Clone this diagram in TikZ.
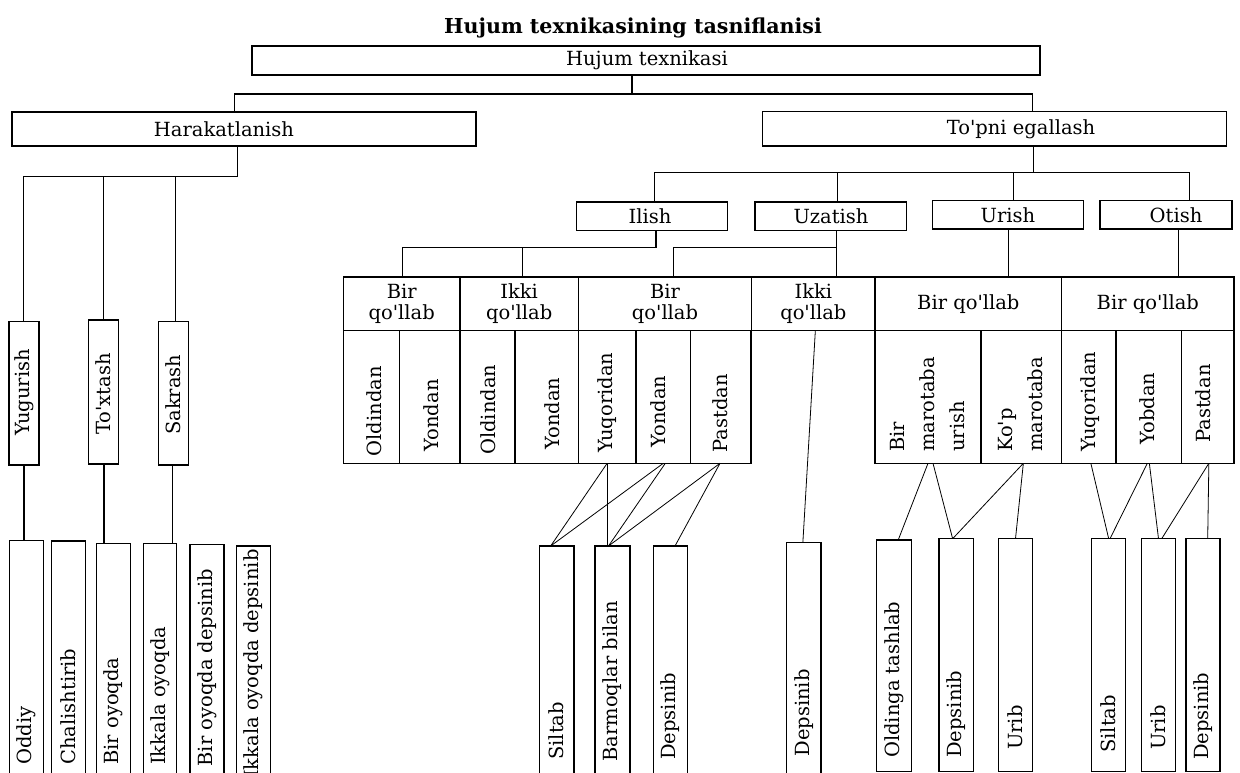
\documentclass[tikz,border=0pt]{standalone}
\usepackage{fontspec}
\setmainfont{DejaVu Serif}
\newcommand{\apo}{\textquotesingle}
\tikzset{
  ln/.style={line width=1.3pt},
  thinln/.style={line width=0.8pt},
  bx/.style={draw, line width=1.3pt, inner sep=0pt, outer sep=0pt, align=center,
    font=\fontsize{19.5}{21}\selectfont},
  lbl/.style={inner sep=0pt, font=\fontsize{19.5}{23}\selectfont},
  rlbl/.style={lbl, rotate=90, anchor=west},
}
\newcommand{\mkbox}[6]{\node[bx, minimum width={#4-#2}, minimum height={#5-#3}] (#1) at ({(#2+#4)/2},{(#3+#5)/2}) {#6};}
\begin{document}
\begin{tikzpicture}[x=1pt,y=-1pt]
\useasboundingbox (0,0) rectangle (1240,773);
\clip (0,0) rectangle (1240,773);
\fill[white] (0,0) rectangle (1240,773);

\node[inner sep=0pt, font=\fontsize{20.6}{24}\selectfont\bfseries] (title) at (633,28) {Hujum texnikasining tasniflanisi};

% main boxes
\mkbox{top}{252}{46}{1040}{75}{}
\mkbox{hara}{12}{112}{476}{146}{}
\mkbox{topni}{762.7}{111.7}{1226.7}{146}{}
\mkbox{ilish}{576.7}{202}{727.3}{230.5}{}
\mkbox{uza}{755}{202}{906.7}{230.5}{}
\mkbox{urish}{932.7}{200.7}{1083.3}{229}{}
\mkbox{otish}{1100}{200.7}{1232}{229}{}
\node[lbl] (topT) at (647,60.5) {Hujum texnikasi};
\node[lbl] (haraT) at (224,129) {Harakatlanish};
\node[lbl] (topniT) at (1021,129) {To\apo pni egallash};
\node[lbl] (ilishT) at (650,216) {Ilish};
\node[lbl] (uzaT) at (831,216) {Uzatish};
\node[lbl] (urishT) at (1008,215) {Urish};
\node[lbl] (otishT) at (1176,215) {Otish};

% left branch
\mkbox{yug}{9}{321.7}{39}{465}{}
\mkbox{tox}{88.3}{320}{118.3}{464}{}
\mkbox{sak}{158.7}{321.7}{188.3}{465}{}
\node[rlbl] (yugT) at (24,436) {Yugurish};
\node[rlbl] (toxT) at (103.3,435) {To\apo xtash};
\node[rlbl] (sakT) at (173.5,435) {Sakrash};

\mkbox{odd}{9.3}{540.7}{43.3}{800}{}
\mkbox{cha}{51.7}{541}{85.7}{800}{}
\mkbox{biro}{96.7}{543.3}{130.3}{800}{}
\mkbox{ikko}{143.3}{543.3}{176.7}{800}{}
\mkbox{birod}{190}{544.3}{224}{800}{}
\mkbox{ikkod}{236.3}{546}{270.7}{800}{}
\node[rlbl] (oddT) at (26.3,765) {Oddiy};
\node[rlbl] (chaT) at (68.7,765) {Chalishtirib};
\node[rlbl] (biroT) at (113.5,765) {Bir oyoqda};
\node[rlbl] (ikkoT) at (160,765) {Ikkala oyoqda};
\node[rlbl] (birodT) at (207,766.7) {Bir oyoqda depsinib};
\node[rlbl] (ikkodT) at (253.5,778) {Ikkala oyoqda depsinib};

% middle table
\mkbox{h1}{343.4}{277}{460}{330.5}{Bir\\qo\apo llab}
\mkbox{h2}{460}{277}{578.3}{330.5}{Ikki\\qo\apo llab}
\mkbox{h3}{578.3}{277}{751.7}{330.5}{Bir\\qo\apo llab}
\mkbox{h4}{751.7}{277}{875}{330.5}{Ikki\\qo\apo llab}
\mkbox{c1}{343.4}{330.5}{399.5}{463.3}{}
\mkbox{c2}{399.5}{330.5}{460}{463.3}{}
\mkbox{c3}{460}{330.5}{515}{463.3}{}
\mkbox{c4}{515}{330.5}{578.3}{463.3}{}
\mkbox{c5}{578.3}{330.5}{636}{463.3}{}
\mkbox{c6}{636}{330.5}{690.6}{463.3}{}
\mkbox{c7}{690.6}{330.5}{751}{463.3}{}
\node[rlbl] (c1T) at (374.4,456.7) {Oldindan};
\node[rlbl] (c2T) at (431,451.7) {Yondan};
\node[rlbl] (c3T) at (488,455) {Oldindan};
\node[rlbl] (c4T) at (551.8,450) {Yondan};
\node[rlbl] (c5T) at (607,453) {Yuqoridan};
\node[rlbl] (c6T) at (658.6,448) {Yondan};
\node[rlbl] (c7T) at (720.6,452.7) {Pastdan};

% right table
\mkbox{h5}{875}{277}{1061.7}{330.5}{Bir qo\apo llab}
\mkbox{h6}{1061.7}{277}{1234}{330.5}{Bir qo\apo llab}
\mkbox{r1}{875}{330.5}{981}{463.3}{}
\mkbox{r2}{981}{330.5}{1061.7}{463.3}{}
\mkbox{r3}{1061.7}{330.5}{1116}{463.3}{}
\mkbox{r4}{1116}{330.5}{1181.7}{463.3}{}
\mkbox{r5}{1181.7}{330.5}{1234}{463.3}{}
\node[rlbl, align=left] (r1T) at (927.5,452) {Bir\\[7pt]marotaba\\[7pt]urish};
\node[rlbl, align=left] (r2T) at (1021,452) {Ko\apo p\\[7pt]marotaba};
\node[rlbl] (r3T) at (1090,452) {Yuqoridan};
\node[rlbl] (r4T) at (1147,445) {Yobdan};
\node[rlbl] (r5T) at (1203,443) {Pastdan};

% bottom middle
\mkbox{s1}{539.3}{546}{574}{800}{}
\mkbox{s2}{595}{546}{630}{800}{}
\mkbox{s3}{653.3}{546}{687.3}{800}{}
\mkbox{s4}{786.7}{542.7}{821}{800}{}
\node[rlbl] (s1T) at (556.7,760) {Siltab};
\node[rlbl] (s2T) at (612.5,761.7) {Barmoqlar bilan};
\node[rlbl] (s3T) at (670.3,760) {Depsinib};
\node[rlbl] (s4T) at (803.9,756.7) {Depsinib};

% bottom right
\mkbox{t1}{876.7}{540}{911.7}{771.7}{}
\mkbox{t2}{939}{538.7}{973.3}{771.7}{}
\mkbox{t3}{998.3}{538.7}{1032.7}{771.7}{}
\mkbox{t4}{1091.7}{538.7}{1125.7}{771.7}{}
\mkbox{t5}{1141.7}{538.7}{1175.3}{771.7}{}
\mkbox{t6}{1186}{538.7}{1220}{771.7}{}
\node[rlbl] (t1T) at (894.2,758) {Oldinga tashlab};
\node[rlbl] (t2T) at (956.2,758) {Depsinib};
\node[rlbl] (t3T) at (1015.5,750) {Urib};
\node[rlbl] (t4T) at (1108.7,753) {Siltab};
\node[rlbl] (t5T) at (1158.5,750) {Urib};
\node[rlbl] (t6T) at (1203,760) {Depsinib};

% connectors: top level
\coordinate (j0) at (632,94);
\coordinate (j0l) at (234.5,94);
\coordinate (j0r) at (1032.7,94);
\draw[ln] (j0 |- top.south) -- (j0) -- (j0l) -- (j0l |- hara.north);
\draw[ln] (j0) -- (j0r) -- (j0r |- topni.north);

% Harakatlanish branch
\coordinate (j1) at (237.7,176.7);
\coordinate (j1l) at (23.8,176.7);
\draw[ln] (j1 |- hara.south) -- (j1) -- (j1l) -- (j1l |- yug.north);
\draw[ln] (tox.north |- j1) -- (tox.north);
\draw[ln] ([xshift=2pt]sak.north |- j1) -- ([xshift=2pt]sak.north);
\draw[ln] (yug.south) -- (yug.south |- odd.north);
\draw[ln] ([xshift=0.7pt]tox.south) -- ([xshift=0.7pt]tox.south |- biro.north);
\draw[ln] ([xshift=-0.8pt]sak.south) -- ([xshift=-0.8pt]sak.south |- ikko.north);

% To'pni egallash branch
\coordinate (j2) at (1033.3,172.3);
\coordinate (j2l) at (654.3,172.3);
\coordinate (j2u) at (837.7,172.3);
\coordinate (j2ur) at (1013.3,172.3);
\coordinate (j2r) at (1189.3,172.3);
\draw[ln] (j2 |- topni.south) -- (j2);
\draw[ln] (j2l |- ilish.north) -- (j2l) -- (j2r) -- (j2r |- otish.north);
\draw[ln] (j2u) -- (j2u |- uza.north);
\draw[ln] (j2ur) -- (j2ur |- urish.north);

% Ilish / Uzatish to table
\coordinate (j3) at (656,247.7);
\coordinate (j3l) at (402.7,247.7);
\coordinate (j3m) at (522.3,247.7);
\draw[ln] (j3 |- ilish.south) -- (j3) -- (j3l) -- (j3l |- h1.north);
\draw[ln] (j3m) -- (j3m |- h2.north);
\coordinate (j4) at (836.7,247.7);
\coordinate (j4l) at (673.3,247.7);
\draw[ln] (j4 |- uza.south) -- (j4) -- (j4l) -- (j4l |- h3.north);
\draw[ln] (j4) -- (j4 |- h4.north);
\coordinate (j5) at (1008.7,240);
\draw[ln] (j5 |- urish.south) -- (j5 |- h5.north);
\coordinate (j6) at (1178.3,240);
\draw[ln] (j6 |- otish.south) -- (j6 |- h6.north);

% middle lower links
\draw[ln] (c5.south) -- (c5.south |- s2.north);
\draw[thinln] (c5.south) -- ([xshift=-6pt]s1.north);
\draw[thinln] (c6.south) -- ([xshift=-6pt]s1.north);
\draw[thinln] ([xshift=2pt]c6.south) -- ([xshift=-4pt]s2.north);
\draw[thinln] ([xshift=-0.8pt]c7.south) -- ([xshift=-4pt]s2.north);
\draw[thinln] ([xshift=-0.8pt]c7.south) -- ([xshift=4.7pt]s3.north);
\draw[thinln] ([xshift=2pt]h4.south) -- ([xshift=-1pt]s4.north);

% right lower links
\draw[thinln] (r1.south) -- ([xshift=4pt]t1.north);
\draw[thinln] ([xshift=5pt]r1.south) -- ([xshift=-3.5pt]t2.north);
\draw[thinln] ([xshift=2pt]r2.south) -- ([xshift=-3.5pt]t2.north);
\draw[thinln] ([xshift=2pt]r2.south) -- (t3.north);
\draw[thinln] ([xshift=2pt]r3.south) -- (t4.north);
\draw[thinln] ([xshift=-1.5pt]r4.south) -- ([xshift=1.3pt]t4.north);
\draw[thinln] ([xshift=0.5pt]r4.south) -- (t5.north);
\draw[thinln] ([xshift=1pt]r5.south) -- ([xshift=3.2pt]t5.north);
\draw[thinln] ([xshift=1pt]r5.south) -- ([xshift=4.7pt]t6.north);
\end{tikzpicture}
\end{document}
